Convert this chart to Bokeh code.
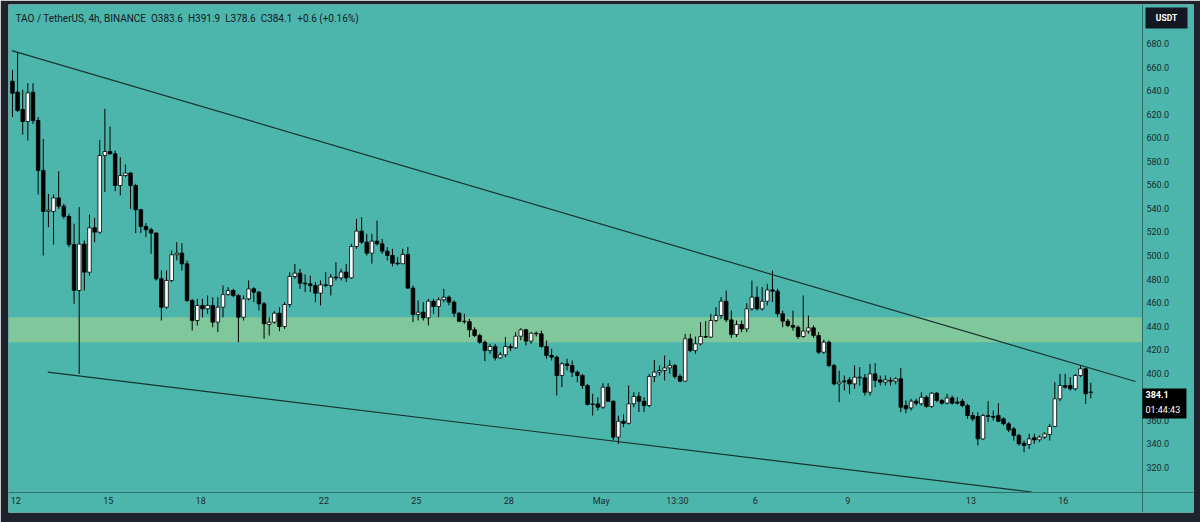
import numpy as np
from bokeh.plotting import figure
from bokeh.models import (Range1d, FixedTicker, BoxAnnotation, Label, ColumnDataSource,
                          NumeralTickFormatter)
from bokeh.embed import file_html
from bokeh.resources import INLINE

# ---------------- data ----------------
candle_index = list(range(-1, 210))   # 4h candles, Apr 11 20:00 .. May 16
opens = [648.0, 638.7, 624.0, 613.8, 638.7, 614.6, 572.2, 537.4, 537.4, 548.9, 541.9, 533.1, 509.3, 470.3, 509.7, 485.8,
         523.5, 519.8, 584.9, 588.3, 586.3, 559.4, 567.9, 570.0, 559.4, 538.8, 524.6, 521.8, 519.0, 480.2, 456.1, 478.8,
         500.6, 502.0, 492.9, 461.8, 444.8, 457.6, 454.7, 457.6, 443.4, 456.1, 466.8, 470.3, 466.0, 447.6, 463.2, 471.7,
         468.9, 459.0, 441.4, 443.4, 451.0, 439.7, 458.4, 482.2, 485.0, 476.5, 475.9, 474.5, 468.0, 475.1, 474.5, 481.6,
         481.0, 485.9, 481.0, 507.6, 520.7, 511.3, 502.0, 512.2, 509.9, 503.7, 500.0, 493.5, 493.0, 500.9, 472.3, 449.9,
         451.9, 447.1, 461.2, 456.7, 462.4, 464.6, 460.4, 451.0, 444.2, 443.8, 436.9, 432.1, 426.4, 419.3, 422.7, 413.1,
         415.7, 422.7, 421.6, 431.5, 436.9, 427.3, 434.0, 433.5, 422.7, 415.1, 413.7, 398.1, 408.0, 406.6, 401.0, 398.1,
         389.6, 373.5, 374.0, 371.2, 388.2, 376.3, 345.8, 359.3, 357.5, 374.1, 380.3, 376.3, 372.6, 397.3, 401.0, 402.4,
         404.6, 406.6, 397.3, 393.3, 429.3, 419.3, 425.0, 431.2, 430.7, 444.8, 449.1, 461.2, 445.4, 432.9, 441.4, 437.7,
         454.7, 464.6, 454.7, 461.2, 470.8, 469.7, 450.5, 444.3, 440.6, 439.1, 431.2, 435.8, 438.6, 432.1, 417.9, 426.4,
         406.6, 391.0, 393.5, 394.4, 391.0, 396.7, 396.1, 383.9, 399.5, 394.4, 392.5, 394.0, 393.3, 395.3, 372.6, 370.6,
         376.3, 374.1, 379.7, 371.8, 383.1, 376.9, 374.6, 379.1, 375.5, 376.3, 372.6, 364.1, 363.3, 344.3, 364.1, 363.3,
         364.1, 361.3, 357.1, 352.8, 347.2, 340.7, 339.5, 345.2, 343.5, 345.8, 348.0, 354.8, 378.3, 389.6, 389.6, 386.8,
         398.1, 403.8, 383.6]
highs = [657.6, 672.6, 640.7, 646.3, 646.3, 617.5, 599.0, 552.3, 551.8, 571.6, 543.9, 535.4, 527.0, 541.0, 512.7, 534.8,
         532.0, 598.2, 624.5, 609.5, 589.0, 583.5, 577.3, 570.8, 560.9, 539.6, 527.4, 523.5, 519.8, 487.3, 487.3, 504.2,
         511.3, 510.5, 495.8, 463.2, 463.2, 463.2, 466.0, 464.6, 464.6, 474.5, 473.1, 471.7, 467.4, 466.0, 478.8, 473.1,
         469.7, 460.4, 447.6, 452.7, 456.1, 460.4, 485.9, 492.9, 488.7, 483.9, 483.0, 477.4, 478.8, 485.9, 484.4, 494.3,
         488.7, 492.9, 509.9, 531.1, 532.6, 518.4, 518.4, 529.7, 514.1, 507.1, 505.7, 498.6, 505.7, 507.1, 474.5, 461.8,
         460.4, 463.2, 463.2, 464.6, 471.7, 466.0, 461.8, 451.9, 450.5, 446.2, 439.1, 433.5, 427.8, 425.0, 425.0, 418.0,
         430.7, 425.0, 434.9, 438.3, 437.7, 434.9, 435.4, 436.3, 427.8, 420.8, 415.1, 409.4, 412.3, 410.9, 402.4, 399.5,
         391.0, 382.6, 379.7, 391.6, 391.6, 376.9, 364.1, 365.0, 389.6, 384.0, 384.0, 379.7, 399.5, 411.4, 406.6, 415.1,
         411.4, 408.0, 399.5, 433.5, 433.5, 431.2, 443.4, 444.3, 450.5, 456.1, 464.6, 470.3, 453.3, 444.8, 444.8, 459.5,
         478.8, 473.7, 473.1, 475.9, 487.3, 471.7, 453.3, 446.2, 453.3, 440.6, 466.0, 449.1, 440.6, 434.9, 428.4, 427.8,
         408.0, 402.3, 398.1, 396.7, 406.6, 405.2, 399.5, 408.0, 408.6, 398.1, 398.1, 396.7, 396.7, 404.6, 376.9, 378.3,
         378.3, 383.9, 381.1, 383.9, 383.9, 378.3, 382.6, 381.1, 379.7, 378.3, 374.1, 367.0, 367.0, 365.5, 376.3, 368.4,
         374.6, 362.7, 358.5, 354.3, 348.6, 342.9, 348.6, 348.6, 347.2, 350.0, 357.1, 392.5, 399.5, 399.5, 396.7, 399.5,
         406.6, 404.6, 391.9]
lows = [617.5, 621.7, 602.7, 597.6, 611.8, 551.8, 500.0, 524.0, 509.3, 539.6, 531.1, 507.0, 459.0, 399.5, 470.3, 483.0,
        511.3, 518.4, 553.8, 586.0, 554.6, 551.0, 566.5, 539.6, 519.0, 519.0, 515.6, 501.4, 478.8, 444.8, 454.7, 477.4,
        495.8, 487.3, 460.4, 436.3, 440.6, 447.6, 450.5, 439.1, 434.9, 447.6, 466.0, 464.6, 426.4, 444.8, 461.8, 460.4,
        453.3, 429.2, 432.0, 442.0, 435.8, 437.7, 456.1, 480.2, 471.7, 468.9, 468.9, 460.4, 457.6, 473.1, 466.0, 478.8,
        478.8, 477.4, 480.2, 505.7, 509.9, 500.0, 493.0, 508.5, 501.4, 495.8, 490.7, 491.5, 492.9, 471.7, 443.4, 444.8,
        444.8, 440.6, 450.5, 447.6, 460.4, 457.6, 447.6, 443.4, 442.0, 430.7, 430.7, 425.0, 410.3, 416.5, 410.9, 412.3,
        413.7, 418.8, 420.8, 427.8, 423.6, 425.0, 431.2, 421.6, 412.3, 410.9, 381.1, 388.2, 402.4, 396.7, 392.5, 386.8,
        372.6, 364.1, 368.4, 369.8, 375.5, 343.0, 340.1, 354.3, 356.5, 371.2, 367.0, 367.0, 371.2, 392.5, 398.1, 393.9,
        399.5, 395.3, 392.5, 393.0, 417.9, 416.5, 423.6, 430.0, 430.0, 443.4, 446.2, 443.4, 430.0, 430.7, 434.9, 434.9,
        453.3, 453.3, 453.3, 457.6, 460.4, 447.6, 439.1, 439.1, 436.3, 429.3, 430.1, 433.5, 430.1, 416.5, 416.5, 405.2,
        389.6, 375.5, 385.4, 382.6, 386.8, 389.6, 381.1, 381.1, 388.2, 389.6, 389.6, 389.6, 390.5, 367.0, 366.1, 368.4,
        372.6, 372.6, 370.7, 370.7, 375.5, 373.5, 373.5, 373.5, 373.5, 371.2, 361.3, 359.3, 338.7, 343.5, 358.5, 359.9,
        358.5, 355.7, 350.0, 342.9, 338.7, 333.0, 335.8, 340.1, 341.5, 344.3, 342.9, 354.3, 376.3, 386.8, 385.4, 385.4,
        396.7, 374.0, 378.6]
closes = [637.8, 623.1, 613.8, 638.1, 614.6, 572.2, 537.4, 538.5, 548.9, 541.9, 533.1, 509.3, 470.3, 509.7, 485.8, 523.5,
          519.8, 584.9, 588.3, 586.3, 559.4, 567.9, 570.0, 559.4, 538.8, 524.6, 521.8, 519.0, 480.2, 456.1, 478.8, 500.6,
          502.0, 492.9, 461.8, 444.8, 457.6, 454.7, 457.6, 443.4, 456.1, 466.8, 470.3, 466.0, 447.6, 463.2, 471.7, 468.9,
          459.0, 442.0, 443.4, 451.0, 439.7, 458.4, 482.2, 485.0, 476.5, 475.9, 474.5, 468.0, 475.1, 474.5, 481.6, 481.0,
          485.9, 481.0, 507.6, 520.7, 511.3, 502.0, 512.2, 509.9, 503.7, 500.0, 493.5, 493.0, 500.9, 472.3, 449.9, 451.9,
          447.1, 461.2, 456.7, 462.4, 464.6, 460.4, 451.0, 444.2, 443.8, 436.9, 432.1, 426.4, 419.3, 422.7, 413.1, 415.7,
          422.7, 421.6, 431.5, 436.9, 427.3, 434.0, 433.5, 422.7, 415.1, 413.7, 398.1, 408.0, 406.6, 401.0, 398.1, 389.6,
          373.5, 374.0, 371.2, 388.2, 376.3, 345.8, 359.3, 357.5, 374.1, 380.3, 376.3, 372.6, 397.3, 401.0, 402.4, 404.6,
          406.6, 397.3, 393.3, 429.3, 419.3, 425.0, 431.2, 430.7, 444.8, 449.1, 461.2, 445.4, 432.9, 441.4, 437.7, 454.7,
          464.6, 454.7, 461.2, 470.8, 469.7, 450.5, 444.3, 440.6, 439.1, 431.2, 435.8, 438.6, 432.1, 417.9, 426.4, 406.6,
          391.0, 392.5, 392.8, 391.0, 396.7, 396.1, 383.9, 399.5, 393.9, 392.5, 394.4, 393.3, 395.3, 371.2, 369.8, 376.3,
          374.6, 379.7, 371.8, 383.1, 376.9, 374.6, 379.1, 374.6, 374.6, 372.6, 364.1, 361.3, 344.3, 364.1, 363.3, 362.7,
          359.3, 357.1, 352.0, 347.2, 340.1, 338.7, 344.3, 343.5, 345.8, 348.6, 354.8, 378.3, 389.6, 388.2, 386.8, 398.1,
          403.8, 382.6, 384.1]

price_ticks = [320, 340, 360, 380, 400, 420, 440, 460, 480, 500, 520, 540, 560, 580, 600, 620, 640, 660, 680]
time_tick_pos = [-0.35, 17.65, 35.65, 59.65, 77.65, 95.65, 113.65, 128.5, 143.65, 161.65, 185.65, 203.65]
time_tick_labels = ["12", "15", "18", "22", "25", "28", "May", "13:30", "6", "9", "13", "16"]

zone_low, zone_high = 426.4, 447.6                  # support / resistance zone
upper_line_x, upper_line_y = [-1.13, 217.7], [674.0, 393.0]
lower_line_x, lower_line_y = [5.88, 197.5], [400.9, 299.2]

header_parts = ["TAO / TetherUS, 4h, BINANCE", "O383.6", "H391.9", "L378.6", "C384.1", "+0.6 (+0.16%)"]
last_price = 384.1
countdown = "01:44:43"
currency = "USDT"

# ---------------- layout / styling ----------------
TEAL = "#4db6ac"
DARK = "#1e222d"
ZONE = "#80c79b"
SEP = "#2f6d67"
TXT = "#1b2a2c"
FONT = "Roboto"

X_MIN, X_MAX = -1.77, 229.0          # frame covers chart + price scale
Y_MIN, Y_MAX = 281.8, 713.1          # frame covers chart + time scale
SCALE_X = 219.06                      # x where the price scale starts
SCALE_Y = 298.8                       # price where the time scale starts

o = np.array(opens); h = np.array(highs); l = np.array(lows); c = np.array(closes)
up = c >= o
src = ColumnDataSource(dict(
    x=candle_index, high=h, low=l,
    top=np.maximum(o, c), bottom=np.minimum(o, c),
    fill=["#ffffff" if u else "#000000" for u in up],
))

p = figure(width=1200, height=522,
           x_range=Range1d(X_MIN, X_MAX), y_range=Range1d(Y_MIN, Y_MAX),
           output_backend="svg", toolbar_location=None, y_axis_location="right",
           min_border_left=8, min_border_right=7, min_border_top=4, min_border_bottom=10,
           background_fill_color=TEAL, border_fill_color=DARK)
p.outline_line_color = None
p.xgrid.grid_line_color = None
p.ygrid.grid_line_color = None

p.add_layout(BoxAnnotation(bottom=zone_low, top=zone_high, right=SCALE_X, fill_color=ZONE, fill_alpha=1.0,
                           line_color=None, level="underlay"))

p.line(upper_line_x, upper_line_y, line_color="#173431", line_width=1.2)
p.line(lower_line_x, lower_line_y, line_color="#173431", line_width=1.2)

p.segment(x0="x", y0="low", x1="x", y1="high", source=src, line_color="#000000", line_width=1)
p.vbar(x="x", width=0.7, top="top", bottom="bottom", source=src,
       fill_color="fill", line_color="#000000", line_width=0.8)

# axes (drawn at fixed locations inside the frame, like TradingView's scales)
ya = p.yaxis[0]
ya.fixed_location = SCALE_X
ya.ticker = FixedTicker(ticks=price_ticks)
ya.formatter = NumeralTickFormatter(format="0.0")
ya.major_tick_line_color = None
ya.major_tick_out = 0
ya.major_tick_in = 0
ya.minor_tick_line_color = None
ya.axis_line_color = SEP
ya.major_label_standoff = 4
ya.major_label_text_font = FONT
ya.major_label_text_font_size = "9px"
ya.major_label_text_color = TXT

xa = p.xaxis[0]
xa.fixed_location = SCALE_Y
xa.ticker = FixedTicker(ticks=time_tick_pos)
xa.major_label_overrides = dict(zip(time_tick_pos, time_tick_labels))
xa.major_tick_line_color = None
xa.major_tick_out = 0
xa.major_tick_in = 0
xa.minor_tick_line_color = None
xa.axis_line_color = SEP
xa.major_label_standoff = 4
xa.major_label_text_font = FONT
xa.major_label_text_font_size = "9px"
xa.major_label_text_color = TXT

# header
p.add_layout(Label(x=-0.41, y=701.6, text="\u00a0\u00a0".join(header_parts), text_baseline="middle",
                   text_font=FONT, text_font_size="10px", text_color="#131722"))

# currency badge on the price scale
p.add_layout(BoxAnnotation(left=219.65, right=227.83, top=710.6, bottom=692.7,
                           fill_color="#131722", fill_alpha=1.0, line_color=None))
p.add_layout(Label(x=223.74, y=701.65, text=currency, text_align="center", text_baseline="middle",
                   text_font=FONT, text_font_size="8.5px", text_font_style="bold", text_color="#ffffff"))

# last price + countdown badge
p.add_layout(BoxAnnotation(left=SCALE_X, right=227.63, top=387.1, bottom=361.6,
                           fill_color="#000000", fill_alpha=1.0, line_color=None))
p.add_layout(Label(x=219.65, y=last_price - 1.7, text=f"{last_price}", text_baseline="middle",
                   text_font=FONT, text_font_size="9px", text_font_style="bold", text_color="#ffffff"))
p.add_layout(Label(x=219.65, y=368.4, text=countdown, text_baseline="middle",
                   text_font=FONT, text_font_size="9px", text_color="#ffffff"))

open("out.html", "w").write(file_html(p, INLINE))
